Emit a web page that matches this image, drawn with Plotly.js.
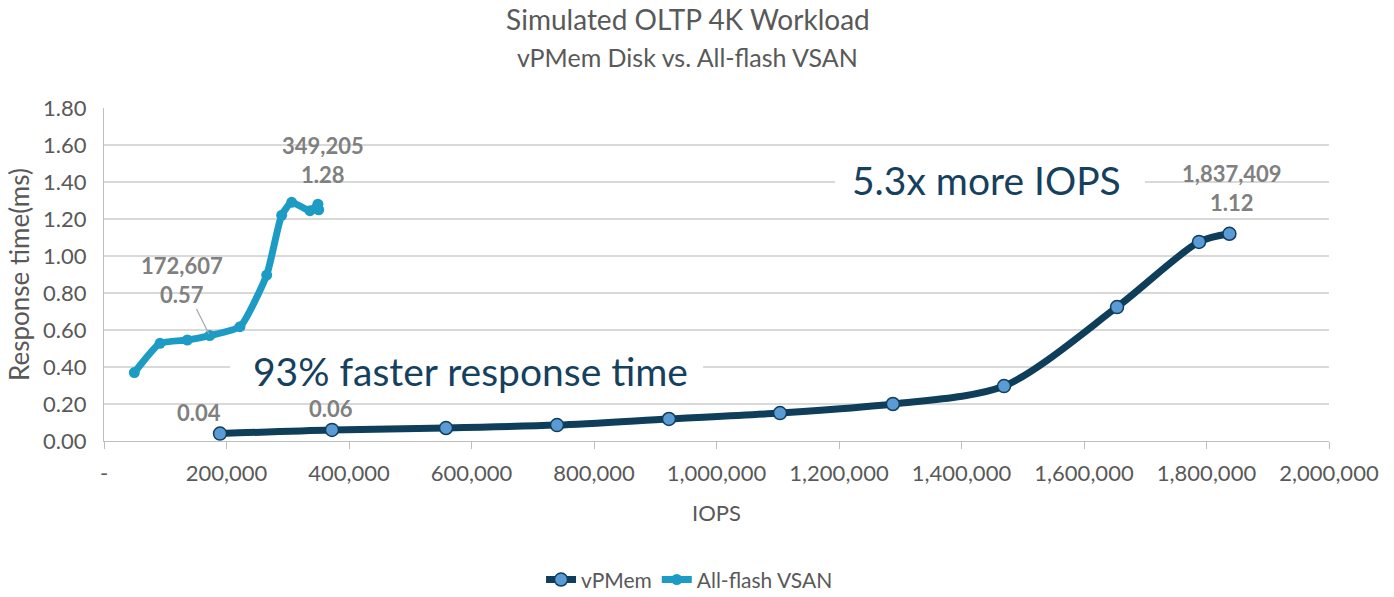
<!DOCTYPE html>
<html>
<head>
<meta charset="utf-8">
<script src="https://cdn.plot.ly/plotly-3.0.1.min.js"></script>
<style>html,body{margin:0;padding:0;background:#fff;}#chart{width:1394px;height:597px;}</style>
</head>
<body>
<div id="chart"></div>
<script>
// vPMem series
const vpmemIOPS = [189400, 372200, 558400, 739600, 922400, 1103700, 1288000, 1469400, 1653900, 1787800, 1837409];
const vpmemRT   = [0.04, 0.06, 0.07, 0.086, 0.119, 0.151, 0.20, 0.297, 0.724, 1.076, 1.12];
// All-flash VSAN series
const vsanIOPS = [49500, 91400, 136000, 172607, 222000, 265600, 290000, 306400, 336300, 349205, 350500];
const vsanRT   = [0.37, 0.528, 0.546, 0.57, 0.618, 0.897, 1.22, 1.29, 1.245, 1.28, 1.25];
// Axis ticks
const xTickVals = [0, 200000, 400000, 600000, 800000, 1000000, 1200000, 1400000, 1600000, 1800000, 2000000];
const xTickText = ["-", "200,000", "400,000", "600,000", "800,000", "1,000,000", "1,200,000", "1,400,000", "1,600,000", "1,800,000", "2,000,000"];
const yTickVals = [0, 0.2, 0.4, 0.6, 0.8, 1.0, 1.2, 1.4, 1.6, 1.8];
const yTickText = ["0.00", "0.20", "0.40", "0.60", "0.80", "1.00", "1.20", "1.40", "1.60", "1.80"];

const FONT = "Lato, 'Open Sans', sans-serif";
const LABEL_GRAY = "#808080";
const TEXT_GRAY = "#595959";
const NAVY = "#0f3e5a";
const TEAL = "#1c9cc4";
const CALLOUT = "#15405e";

const traces = [
  {
    x: vpmemIOPS, y: vpmemRT, name: "vPMem", type: "scatter", mode: "lines+markers",
    line: {color: NAVY, width: 7, shape: "spline", smoothing: 0.8},
    marker: {color: "#5b9bd5", size: 13, line: {color: NAVY, width: 1.5}}
  },
  {
    x: vsanIOPS, y: vsanRT, name: "All-flash VSAN", type: "scatter", mode: "lines+markers",
    line: {color: TEAL, width: 7, shape: "spline", smoothing: 0.5},
    marker: {color: TEAL, size: 11}
  }
];

const lblFont = {family: FONT, size: 22, color: LABEL_GRAY};
const annotations = [
  // subtitle
  {x: 0.4767, y: 1.153, xref: "paper", yref: "paper", text: "vPMem Disk vs. All-flash VSAN", showarrow: false,
   xanchor: "center", yanchor: "middle", font: {family: FONT, size: 25, color: TEXT_GRAY}},
  // callouts
  {x: 1441600, y: 1.411, xref: "x", yref: "y", text: "5.3x more IOPS", showarrow: false,
   xanchor: "center", yanchor: "middle", font: {family: FONT, size: 39, color: CALLOUT}},
  {x: 597600, y: 0.378, xref: "x", yref: "y", text: "93% faster response time", showarrow: false,
   xanchor: "center", yanchor: "middle", font: {family: FONT, size: 39, color: CALLOUT}},
  // data labels
  {x: vsanIOPS[9], y: vsanRT[9], xref: "x", yref: "y", text: "<b>349,205<br>1.28</b>", showarrow: false,
   xanchor: "center", yanchor: "bottom", yshift: 14, xshift: 5, font: lblFont},
  {x: vpmemIOPS[10], y: vpmemRT[10], xref: "x", yref: "y", text: "<b>1,837,409<br>1.12</b>", showarrow: false,
   xanchor: "center", yanchor: "bottom", yshift: 16, xshift: 3, font: lblFont},
  {x: vsanIOPS[3], y: vsanRT[3], xref: "x", yref: "y", text: "<b>172,607<br>0.57</b>", showarrow: true,
   arrowhead: 0, arrowwidth: 1.2, arrowcolor: "#a6a6a6", ax: -28, ay: -56, standoff: 2, font: lblFont},
  {x: vpmemIOPS[0], y: vpmemRT[0], xref: "x", yref: "y", text: "<b>0.04</b>", showarrow: false,
   xanchor: "center", yanchor: "middle", yshift: 21, xshift: -21, font: lblFont},
  {x: vpmemIOPS[1], y: vpmemRT[1], xref: "x", yref: "y", text: "<b>0.06</b>", showarrow: false,
   xanchor: "center", yanchor: "middle", yshift: 21, xshift: -1, font: lblFont}
];

// white text-box backgrounds of the two callouts, masking the gridline behind each
const shapes = [
  {type: "rect", xref: "x", yref: "y", x0: 1193500, x1: 1699600, y0: 1.37, y1: 1.45,
   fillcolor: "#ffffff", line: {width: 0}, layer: "between"},
  {type: "rect", xref: "x", yref: "y", x0: 205700, x1: 978000, y0: 0.33, y1: 0.44,
   fillcolor: "#ffffff", line: {width: 0}, layer: "between"}
];

const layout = {
  width: 1394, height: 597,
  paper_bgcolor: "#ffffff", plot_bgcolor: "#ffffff",
  margin: {l: 104, r: 65, t: 108, b: 156, autoexpand: false},
  font: {family: FONT, color: TEXT_GRAY},
  title: {
    text: "Simulated OLTP 4K Workload",
    font: {family: FONT, size: 28, color: TEXT_GRAY},
    x: 0.4935, xanchor: "center", xref: "container", y: 0.966, yanchor: "middle", yref: "container"
  },
  xaxis: {
    range: [0, 2000000], tickmode: "array", tickvals: xTickVals, ticktext: xTickText,
    showgrid: false, zeroline: false, showline: true, linecolor: "#bfbfbf", linewidth: 1,
    ticks: "outside", ticklen: 7, tickcolor: "#bfbfbf", ticklabelstandoff: 6,
    tickfont: {family: FONT, size: 22, color: TEXT_GRAY},
    title: {text: "IOPS", font: {family: FONT, size: 22, color: TEXT_GRAY}, standoff: 20}
  },
  yaxis: {
    range: [0, 1.8], tickmode: "array", tickvals: yTickVals, ticktext: yTickText,
    showgrid: true, gridcolor: "#d9d9d9", gridwidth: 1.5, zeroline: false,
    showline: true, linecolor: "#bfbfbf", linewidth: 1, ticklabelstandoff: 12,
    tickfont: {family: FONT, size: 22, color: TEXT_GRAY},
    title: {text: "Response time(ms)", font: {family: FONT, size: 26, color: TEXT_GRAY}, standoff: 6}
  },
  showlegend: true,
  legend: {orientation: "h", x: 0.478, xanchor: "center", y: -0.417, yanchor: "middle",
    font: {family: FONT, size: 21, color: TEXT_GRAY}},
  shapes: shapes,
  annotations: annotations
};

Plotly.newPlot("chart", traces, layout, {displayModeBar: false, staticPlot: true});
</script>
</body>
</html>
